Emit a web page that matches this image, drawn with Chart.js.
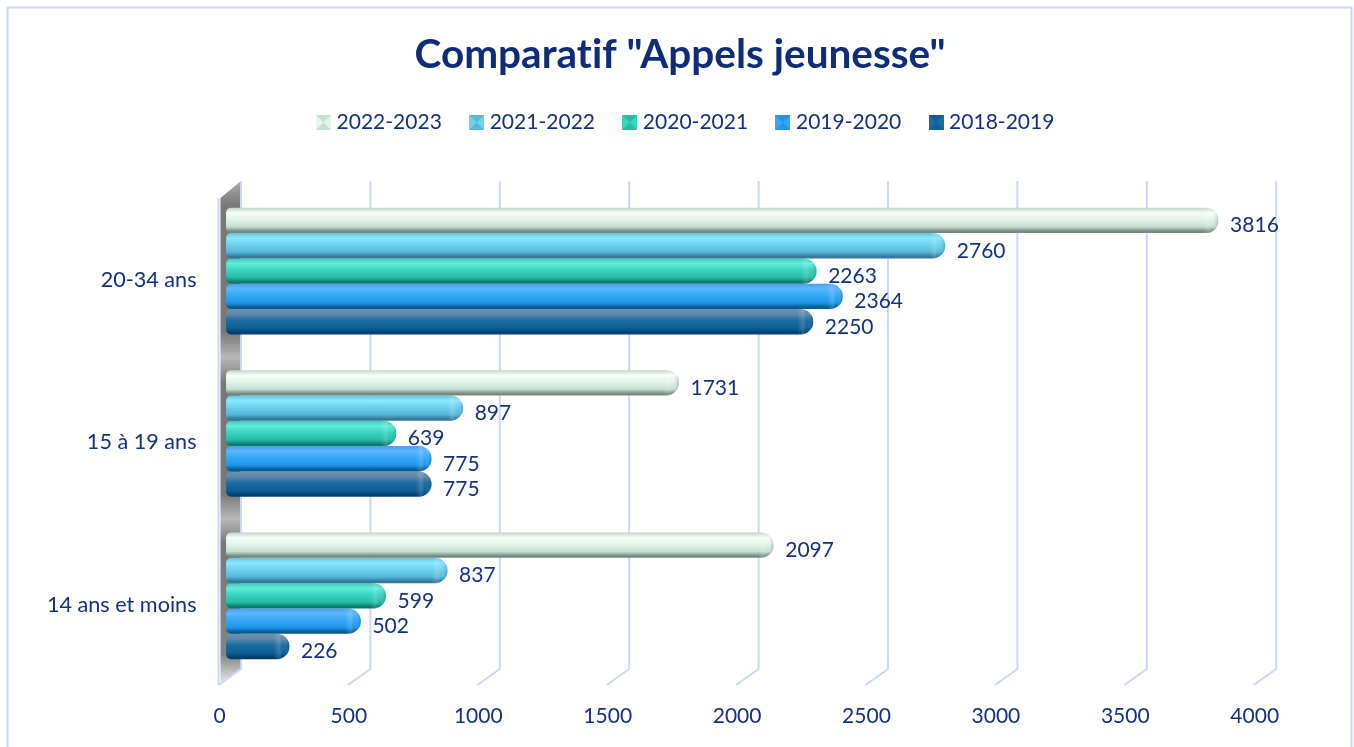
<!DOCTYPE html>
<html>
<head>
<meta charset="utf-8">
<style>
html, body { margin: 0; padding: 0; background: #fff; overflow: hidden; }
canvas { display: block; }
</style>
<script src="https://cdn.jsdelivr.net/npm/chart.js@4"></script>
</head>
<body>
<div style="width:1354px;height:747px"><canvas id="chart1"></canvas></div>
<script>
let categories = ["20-34 ans", "15 à 19 ans", "14 ans et moins"];
let xTicks = [0, 500, 1000, 1500, 2000, 2500, 3000, 3500, 4000];
let years = ["2022-2023", "2021-2022", "2020-2021", "2019-2020", "2018-2019"];
let v2022 = [3816, 1731, 2097];
let v2021 = [2760, 897, 837];
let v2020 = [2263, 639, 599];
let v2019 = [2364, 775, 502];
let v2018 = [2250, 775, 226];
let seriesValues = [v2022, v2021, v2020, v2019, v2018];

let textColor = "#14327c";
let gridColor = "#c9d8f7";
let fontName = "Lato";

// gradient stops top to bottom for each year
let glossColors = [
    ["#c0d5c8", "#f5fdf9", "#e4f5ec", "#c5dfd0", "#77897f"],
    ["#62c3e0", "#88e8ff", "#6fd2ef", "#55b8d8", "#34789a"],
    ["#40c8b2", "#62ecdc", "#3ad4c0", "#26bca8", "#0c7a6c"],
    ["#4b9fe9", "#5cb6ff", "#35a8f6", "#1f96ea", "#065a92"],
    ["#7090ae", "#5f88ab", "#1a6ca2", "#0e5f96", "#003f6e"]
];

function swatch(c) {
    let s = document.createElement("canvas");
    s.width = 15;
    s.height = 15;
    let g = s.getContext("2d");
    g.fillStyle = c[2];
    g.fillRect(0, 0, 15, 15);
    g.fillStyle = c[3];
    g.beginPath();
    g.moveTo(0, 0); g.lineTo(7.5, 7.5); g.lineTo(15, 0);
    g.moveTo(0, 15); g.lineTo(7.5, 7.5); g.lineTo(15, 15);
    g.fill();
    return s;
}

let frame = {
    id: "frame",
    beforeLayout(chart) {
        // the legend needs more room under it than its padding gives
        if (!chart.legend.patched) {
            let fit = chart.legend.fit;
            chart.legend.fit = function () {
                fit.call(this);
                this.height += 47;
                this.lineWidths[0] -= 15;
            };
            chart.legend.patched = true;
        }
    },
    beforeDraw(chart) {
        let c = chart.ctx;
        // stops the "ti" ligature of Lato
        c.letterSpacing = "0.01px";
        c.save();
        c.strokeStyle = gridColor;
        c.lineWidth = 2;
        c.strokeRect(7.5, 7.5, 1344, 770);
        c.restore();
    }
};

let wall3d = {
    id: "wall3d",
    beforeDatasetsDraw(chart) {
        let c = chart.ctx;
        let x = chart.scales.x;
        let a = chart.chartArea;
        let top = a.top - 9, back = a.bottom - 8, front = a.bottom + 8;
        let x0 = x.getPixelForValue(0);
        c.save();
        let wall = c.createLinearGradient(0, top, 0, front);
        wall.addColorStop(0, "#a8a8a8");
        wall.addColorStop(0.05, "#787878");
        wall.addColorStop(0.30, "#777777");
        wall.addColorStop(0.35, "#b8b8b8");
        wall.addColorStop(0.40, "#777777");
        wall.addColorStop(0.62, "#777777");
        wall.addColorStop(0.67, "#b8b8b8");
        wall.addColorStop(0.72, "#777777");
        wall.addColorStop(0.94, "#858585");
        wall.addColorStop(1, "#ededed");
        c.fillStyle = wall;
        c.beginPath();
        c.moveTo(x0 + 10, top);
        c.lineTo(x0 - 10.5, top + 17);
        c.lineTo(x0 - 10.5, front);
        c.lineTo(x0 + 10, back);
        c.closePath();
        c.fill();

        c.strokeStyle = gridColor;
        c.lineWidth = 2;
        xTicks.forEach((t) => {
            let px = x.getPixelForValue(t);
            c.beginPath();
            c.moveTo(px + 10, top);
            c.lineTo(px + 10, back);
            c.lineTo(px - 12.5, front);
            if (t === 0) {
                c.moveTo(px - 12.5, top + 17);
                c.lineTo(px - 12.5, front);
            }
            c.stroke();
        });
        c.restore();

        // the bars only know their position once laid out, so the gradient goes on here
        chart.data.datasets.forEach((ds, i) => {
            chart.getDatasetMeta(i).data.forEach((el) => {
                let h = el.height;
                let g = c.createLinearGradient(0, el.y - h / 2, 0, el.y + h / 2);
                let stops = glossColors[i];
                g.addColorStop(0, stops[0]);
                g.addColorStop(0.2, stops[1]);
                g.addColorStop(0.45, stops[2]);
                g.addColorStop(0.75, stops[3]);
                g.addColorStop(0.93, stops[4]);
                g.addColorStop(1, stops[4]);
                el.options = Object.assign({}, el.options, { backgroundColor: g });
            });
        });
    },
    afterDatasetsDraw(chart) {
        let c = chart.ctx;
        c.save();
        chart.data.datasets.forEach((ds, i) => {
            chart.getDatasetMeta(i).data.forEach((el, j) => {
                let h = el.height;
                // shade on the round end of the bar
                c.save();
                c.beginPath();
                c.roundRect(el.x - 16, el.y - h / 2, 16, h, [0, 13, 13, 0]);
                c.clip();
                let g = c.createLinearGradient(el.x - 16, 0, el.x, 0);
                g.addColorStop(0, "rgba(255,255,255,0)");
                g.addColorStop(0.35, "rgba(255,255,255,0.16)");
                g.addColorStop(0.6, "rgba(255,255,255,0)");
                g.addColorStop(1, "rgba(0,0,0,0.2)");
                c.fillStyle = g;
                c.fillRect(el.x - 16, el.y - h / 2, 16, h);
                c.restore();

                c.fillStyle = textColor;
                c.font = "21px " + fontName;
                c.textAlign = "left";
                c.textBaseline = "middle";
                c.fillText(ds.data[j], el.x + 11.5, el.y + 5);
            });
        });
        c.restore();
    }
};

let datasets = years.map((y, i) => ({
    label: y,
    data: seriesValues[i],
    backgroundColor: glossColors[i][2],
    base: -19,
    clip: false,
    borderSkipped: false,
    borderWidth: 0,
    borderRadius: { topLeft: 5, bottomLeft: 5, topRight: 13, bottomRight: 13 },
    categoryPercentage: 0.78,
    barPercentage: 1
}));

let chart1 = new Chart(document.getElementById("chart1").getContext("2d"), {
    type: "bar",
    data: { labels: categories, datasets: datasets },
    plugins: [frame, wall3d],
    options: {
        indexAxis: "y",
        responsive: true,
        maintainAspectRatio: false,
        animation: false,
        layout: { padding: { left: 6, right: 0, top: 0, bottom: 0 } },
        scales: {
            x: {
                type: "linear",
                min: 0,
                max: 4000,
                afterBuildTicks(s) { s.ticks = xTicks.map((v) => ({ value: v })); },
                afterFit(s) { s.height = 70; },
                grid: { display: false },
                border: { display: false },
                ticks: {
                    color: textColor,
                    font: { family: fontName, size: 21 },
                    padding: 19,
                    labelOffset: -11.5,
                    maxRotation: 0,
                    minRotation: 0,
                    callback: (v) => String(v)
                }
            },
            y: {
                afterFit(s) { s.width = 225; },
                grid: { display: false, drawTicks: false },
                border: { display: false },
                ticks: {
                    color: textColor,
                    font: { family: fontName, size: 21.6 },
                    padding: 34.5,
                    labelOffset: 9
                }
            },
            // empty axis, keeps the plot off the right side so the title stays centred
            yRight: {
                position: "right",
                afterFit(s) { s.width = 87.8; },
                grid: { display: false },
                border: { display: false },
                ticks: { display: false }
            }
        },
        plugins: {
            title: {
                display: true,
                text: 'Comparatif "Appels jeunesse"',
                color: "#0e2c78",
                font: { family: fontName, size: 40.5, weight: "bold", lineHeight: 1.2 },
                padding: { top: 31, bottom: 0 }
            },
            legend: {
                display: true,
                position: "top",
                labels: {
                    color: textColor,
                    font: { family: fontName, size: 21 },
                    usePointStyle: true,
                    boxWidth: 5,
                    padding: 32.3,
                    generateLabels(chart) {
                        return years.map((y, i) => ({
                            text: y,
                            fontColor: textColor,
                            pointStyle: swatch(glossColors[i]),
                            lineWidth: 0,
                            datasetIndex: i
                        }));
                    }
                }
            },
            tooltip: { enabled: false }
        }
    }
});
</script>
</body>
</html>
